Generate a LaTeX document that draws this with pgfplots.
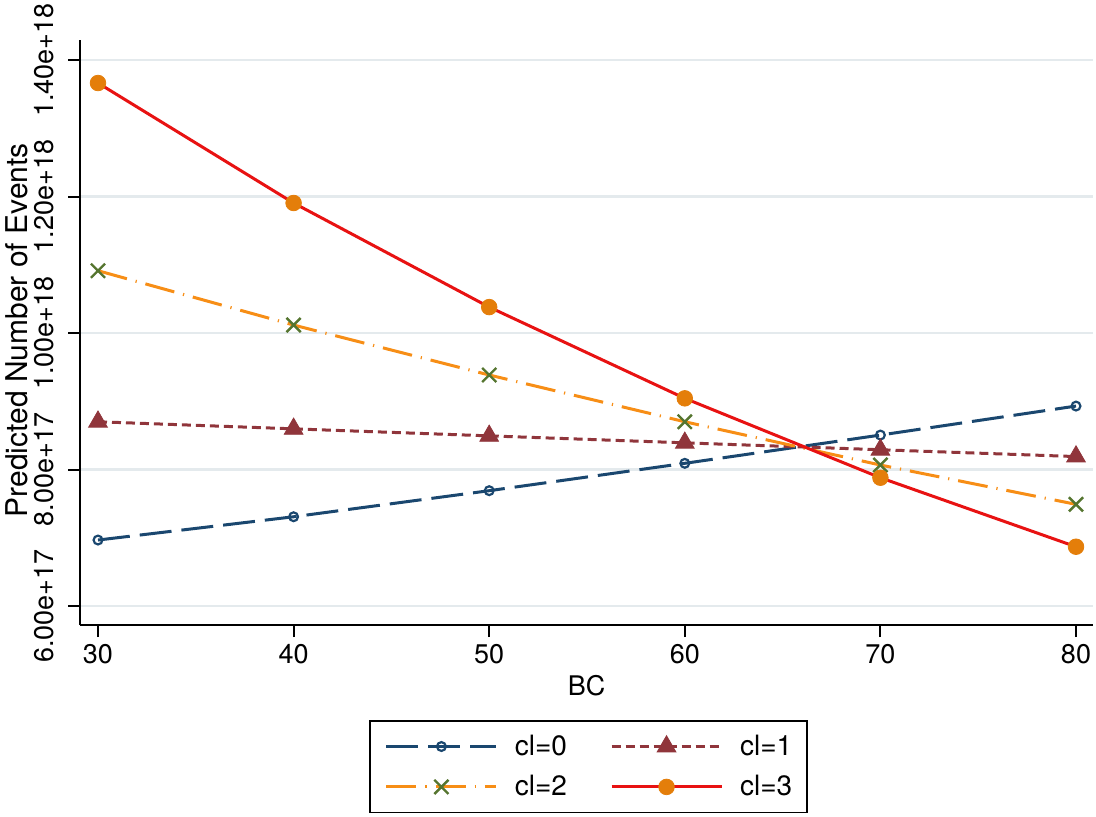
\documentclass[border=0pt]{standalone}
\usepackage{fontspec}
\setmainfont{TeX Gyre Heros}
\usepackage{pgfplots}
\pgfplotsset{compat=1.18}
\definecolor{navyc}{RGB}{26,71,111}
\definecolor{maroonc}{RGB}{144,53,59}
\definecolor{greenc}{RGB}{85,117,47}
\definecolor{lineorange}{RGB}{247,142,22}
\definecolor{dotorange}{RGB}{228,126,10}
\definecolor{redc}{RGB}{232,18,18}
\definecolor{gridc}{RGB}{228,234,237}
\begin{document}
\begin{tikzpicture}
\path[use as bounding box] (-40pt,-95.5pt) rectangle (508pt,312.5pt);
\begin{axis}[
  scale only axis, width=506.5pt, height=292.5pt,
  at={(0pt,0pt)}, anchor=south west,
  xmin=29.08, xmax=80.87, ymin=5.722e17, ymax=1.4293e18,
  axis x line*=bottom, axis y line*=left,
  axis line style={line width=1pt, black, -},
  xtick={30,40,50,60,70,80},
  ytick={6e17,8e17,1e18,1.2e18,1.4e18},
  yticklabels={6.00e+17,8.00e+17,1.00e+18,1.20e+18,1.40e+18},
  scaled y ticks=false,
  /pgf/number format/assume math mode=true,
  tick align=outside, major tick length=6pt,
  major tick style={line width=1pt, black},
  ymajorgrids, grid style={line width=1.2pt, gridc},
  tick label style={font=\fontsize{13.5}{16}\selectfont},
  xticklabel style={anchor=base}, xticklabel shift=13pt,
  yticklabel style={rotate=90, anchor=base}, yticklabel shift=7.5pt,
  xlabel={BC},
  xlabel style={at={(axis description cs:0.5,0)}, anchor=base, yshift=-35pt, font=\fontsize{13.5}{16}\selectfont},
  ylabel={Predicted Number of Events},
  ylabel style={at={(axis description cs:-0.0523,0.504)}, anchor=base, font=\fontsize{15}{18}\selectfont},
  legend columns=2,
  legend style={at={(axis description cs:0.502,0)}, anchor=north, yshift=-47.5pt,
    draw=black, line width=0.8pt, inner xsep=7.5pt, inner ysep=7pt,
    font=\fontsize{14}{17}\selectfont, row sep=8.5pt,
    nodes={inner sep=0pt, text depth=0.15em},
    /tikz/every odd column/.append style={column sep=8.5pt},
    /tikz/every even column/.append style={column sep=21.5pt}},
  legend cell align=left,
  legend image code/.code={\draw[mark repeat=2,mark phase=2,#1] plot coordinates {(0pt,0pt) (27.5pt,0pt) (55pt,0pt)};},
]
\addplot[navyc, line width=1.5pt, dash pattern=on 16pt off 5pt, mark=o, mark size=2.2pt, mark options={solid, line width=1.1pt}]
  coordinates {(30,6.967e17) (40,7.308e17) (50,7.690e17) (60,8.091e17) (70,8.505e17) (80,8.930e17)};
\addlegendentry{cl=0}
\addplot[maroonc, line width=1.5pt, dash pattern=on 4.5pt off 2.5pt, mark=triangle*, mark size=5.4pt, mark options={solid, line width=0.4pt}]
  coordinates {(30,8.700e17) (40,8.596e17) (50,8.493e17) (60,8.391e17) (70,8.290e17) (80,8.190e17)};
\addlegendentry{cl=1}
\addplot[lineorange, line width=1.5pt, dash pattern=on 15pt off 4.5pt on 0.6pt off 4.5pt, mark=x, mark size=5pt, mark options={solid, greenc, line width=1.2pt}]
  coordinates {(30,1.0913e18) (40,1.0117e18) (50,9.385e17) (60,8.700e17) (70,8.066e17) (80,7.490e17)};
\addlegendentry{cl=2}
\addplot[redc, line width=1.5pt, solid, mark=*, mark size=3.9pt, mark options={dotorange, fill=dotorange, line width=0.4pt}]
  coordinates {(30,1.3663e18) (40,1.1905e18) (50,1.0380e18) (60,9.043e17) (70,7.880e17) (80,6.869e17)};
\addlegendentry{cl=3}
\end{axis}
\end{tikzpicture}
\end{document}
